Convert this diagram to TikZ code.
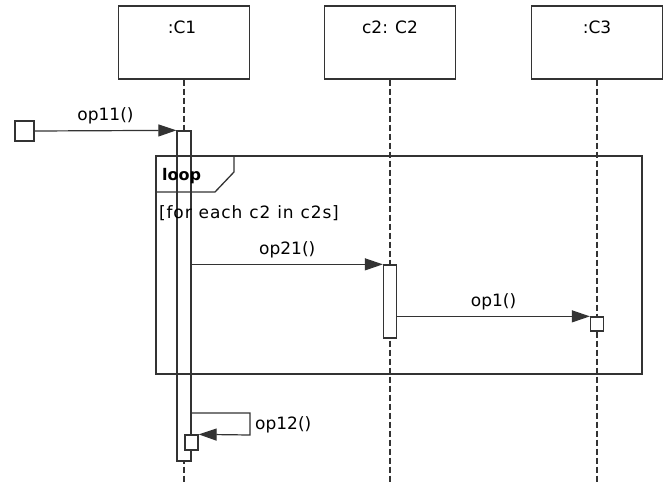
\documentclass[tikz,border=0pt]{standalone}
\usepackage{fontspec}
\setmainfont{DejaVu Sans}
\newfontfamily\widefont[LetterSpace=5]{DejaVu Sans}
\usetikzlibrary{arrows.meta}
\definecolor{ln}{HTML}{333333}
\tikzset{
  objbox/.style={draw=ln, line width=1.3pt, minimum width=131pt, minimum height=73pt, inner sep=0pt, fill=white},
  actbar/.style={draw=ln, line width=1.3pt, fill=white, inner sep=0pt},
  lifeline/.style={draw=ln, line width=1.3pt, dash pattern=on 6pt off 3pt},
  msg/.style={draw=ln, line width=1.2pt, -{Triangle[length=18pt,width=12pt]}},
  lbl/.style={font=\fontsize{17}{20}\selectfont, text=black, inner sep=1pt},
  framebox/.style={draw=ln, line width=1.3pt}
}
\begin{document}
\begin{tikzpicture}[x=1pt,y=-1pt]
\useasboundingbox (0,0) rectangle (666,482);
% object boxes
\node[objbox] (c1) at (184,42.5) {};
\node[objbox] (c2) at (390,42.5) {};
\node[objbox] (c3) at (597,42.5) {};
\node[lbl] (c1t) at (182,27.5) {:C1};
\node[lbl] (c2t) at (390,27.5) {c2: C2};
\node[lbl] (c3t) at (597,27.5) {:C3};
% lifelines
\coordinate (e1) at (184,482);
\coordinate (e2) at (390,482);
\coordinate (e3) at (597,482);
\draw[lifeline] (c1.south) -- (e1);
\draw[lifeline] (c2.south) -- (e2);
\draw[lifeline] (c3.south) -- (e3);
% activation bars
\node[actbar, minimum width=14pt, minimum height=330pt] (b1) at (184,296) {};
\node[actbar, minimum width=13pt, minimum height=73pt] (b2) at (390,301.5) {};
\node[actbar, minimum width=13pt, minimum height=14pt] (b3) at (597,324) {};
\node[actbar, minimum width=13pt, minimum height=15pt] (b1s) at (191.5,442.5) {};
\node[actbar, minimum width=19pt, minimum height=20pt] (start) at (24.5,131) {};
% loop frame
\draw[framebox] (156,156) rectangle (642,374);
\draw[framebox] (156,192) -- (215,192) -- (234,172) -- (234,156);
\node[lbl, font=\fontsize{16}{19}\selectfont\bfseries, anchor=west] (looplbl) at (161,176) {loop};
\node[lbl, anchor=west] (guard) at (158,213) {\widefont\spaceskip=7pt\relax [for each c2 in c2s]};
% messages
\draw[msg] (start.east) -- node[lbl, above=5pt] (m11) {op11()} (b1.north west);
\draw[msg] (b1.east |- b2.north) -- node[lbl, above=5pt] (m21) {op21()} (b2.north west);
\draw[msg] (b2.east |- b3.north) -- node[lbl, above=5pt] (m1) {op1()} (b3.north west);
\coordinate (sl1) at (191,413);
\coordinate (sl2) at (250,413);
\coordinate (sl3) at (250,435);
\draw[msg] (sl1) -- (sl2) -- (sl3) -- (b1s.north east);
\node[lbl, anchor=west] (m12) at (254,425) {op12()};
\end{tikzpicture}
\end{document}
